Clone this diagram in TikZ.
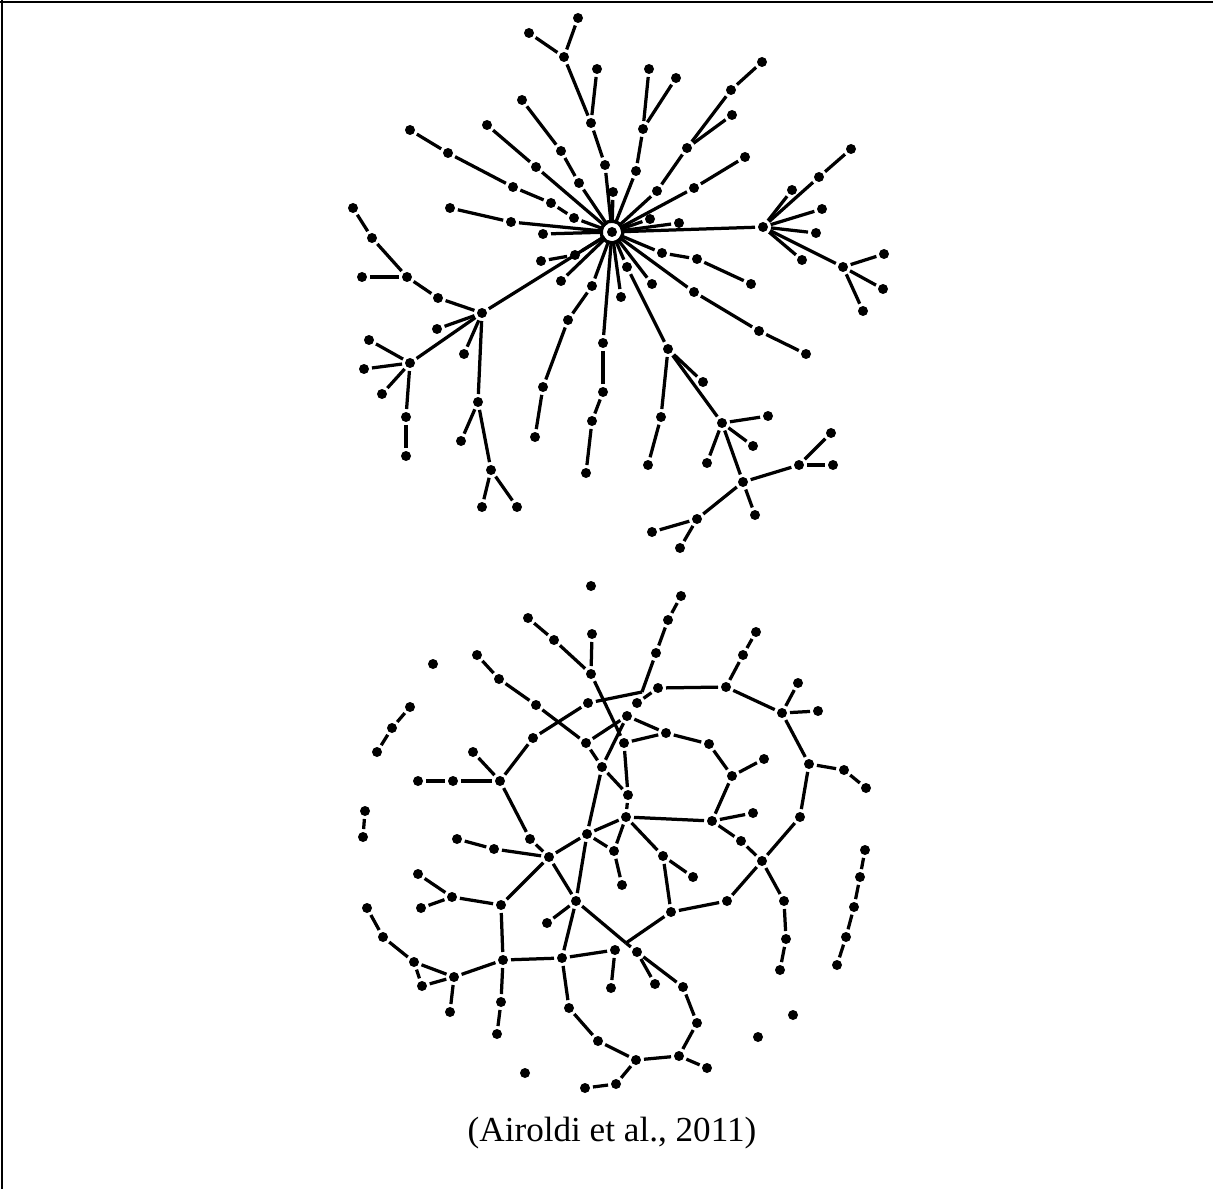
\documentclass[tikz,border=0pt]{standalone}
\usepackage{fontspec}
\setmainfont{Liberation Serif}
\usepackage{tikz}
\usetikzlibrary{positioning}

\begin{document}
\begin{tikzpicture}[
  x=0.02cm, y=-0.02cm,
  dot/.style={circle, fill=black, inner sep=0pt, minimum size=0.2cm, outer sep=0.06cm},
  hub/.style={dot, outer sep=0.08cm},
  edge/.style={draw=black, line width=0.065cm},
  frame/.style={draw=black, line width=0.04cm},
  cite/.style={font=\fontsize{20}{24}\selectfont, inner sep=0pt}]
\useasboundingbox (0,0) rectangle (1213,1189);
\draw[frame] (0,2) -- (1213,2);
\draw[frame] (2,0) -- (2,1189);

% upper network: one star around the hub
\node[hub] (th) at (612,232) {};
\foreach \x/\y in {578/18, 529/33, 564/57, 597/69, 649/69, 676/78, 762/62, 731/90,
    522/100, 591/123, 643/129, 732/115, 487/125, 410/130, 448/153, 561/151, 687/148,
    745/157, 605/165, 536/167, 636/171, 579/183, 513/187, 613/192, 657/191, 694/188,
    851/149, 819/177, 792/190, 551/203, 353/208, 450/208, 822/209, 574/218, 511/222,
    650/219, 679/223, 763/227, 816/233, 543/234, 372/238, 541/261, 575/255, 662/253,
    697/259, 802/260, 843/267, 884/254, 883/289, 863/311, 751/284, 627/267, 652/284,
    561/281, 592/286, 621/297, 694/292, 362/277, 407/277, 438/298, 482/313, 437/329,
    464/354, 369/340, 410/363, 364/369, 382/394, 406/417, 406/456, 478/402, 461/441,
    491/470, 482/507, 517/507, 568/320, 543/387, 535/437, 603/343, 603/392, 592/421,
    586/473, 759/331, 806/354, 668/349, 703/382, 661/417, 648/465, 722/423, 768/416,
    753/446, 707/463, 743/482, 799/465, 831/433, 833/465, 755/515, 697/519, 652/532,
    680/548}
  \node[dot] (t\x-\y) at (\x,\y) {};
\draw[edge] (th) circle (0.22cm);
\foreach \a/\b in {h/605-165, 605-165/591-123, 591-123/564-57, 564-57/578-18,
    564-57/529-33, 591-123/597-69, h/579-183, 579-183/561-151, 561-151/522-100,
    h/536-167, 536-167/487-125, h/574-218, 574-218/551-203, 551-203/513-187,
    513-187/448-153, 448-153/410-130, h/511-222, 511-222/450-208, h/543-234, h/613-192,
    h/636-171, 636-171/643-129, 643-129/649-69, 643-129/676-78,
    h/657-191, 657-191/687-148, 687-148/731-90, 731-90/762-62, 687-148/732-115,
    h/694-188, 694-188/745-157, h/650-219, h/679-223, h/763-227,
    763-227/792-190, 763-227/819-177, 819-177/851-149, 763-227/822-209, 763-227/816-233,
    763-227/802-260, 763-227/843-267, 843-267/884-254, 843-267/883-289, 843-267/863-311,
    h/662-253, 662-253/697-259, 697-259/751-284, h/627-267, 627-267/668-349,
    h/652-284, h/621-297, h/694-292, 694-292/759-331, 759-331/806-354,
    h/603-343, 603-343/603-392, 603-392/592-421, 592-421/586-473,
    668-349/703-382, 668-349/661-417, 661-417/648-465, 668-349/722-423,
    722-423/768-416, 722-423/753-446, 722-423/707-463, 722-423/743-482,
    743-482/799-465, 799-465/831-433, 799-465/833-465, 743-482/755-515,
    743-482/697-519, 697-519/652-532, 697-519/680-548,
    h/592-286, 592-286/568-320, 568-320/543-387, 543-387/535-437,
    h/561-281, h/575-255, 575-255/541-261,
    h/482-313, 482-313/438-298, 438-298/407-277, 407-277/372-238, 372-238/353-208,
    407-277/362-277, 482-313/437-329, 482-313/464-354, 482-313/410-363,
    410-363/369-340, 410-363/364-369, 410-363/382-394, 410-363/406-417, 406-417/406-456,
    482-313/478-402, 478-402/491-470, 491-470/482-507, 491-470/517-507, 478-402/461-441}
  \draw[edge] (t\a) -- (t\b);

% lower network: several rings and loose pieces
\foreach \x/\y in {591/586, 433/664, 525/1073, 758/1037, 793/1015,
    410/707, 392/728, 377/752, 365/811, 363/837,
    865/850, 860/877, 854/907, 846/937, 837/965,
    528/618, 554/640, 591/674, 592/634, 624/743, 681/596, 668/620, 656/653, 588/703,
    637/703, 658/688, 726/687, 743/655, 756/632, 782/713, 798/683, 818/711, 809/764,
    844/770, 866/788, 800/817, 477/655, 499/679, 536/705, 586/743, 533/738, 500/781,
    473/752, 418/781, 453/781, 530/839, 602/767, 627/716, 666/733, 628/795, 626/817,
    587/834, 709/744, 732/776, 764/759, 712/821, 741/841, 753/813, 762/861,
    784/901, 786/939, 780/970, 727/901, 671/912, 663/856, 693/877,
    637/952, 655/984, 683/987, 697/1023, 679/1056, 707/1068, 636/1060, 616/1084,
    585/1088, 598/1041, 569/1008, 562/958, 615/950, 611/988,
    503/960, 576/901, 614/851, 622/885, 549/857, 494/849, 457/839, 547/923, 501/905,
    452/897, 418/874, 421/908, 454/977, 414/962, 383/937, 367/908, 422/986, 450/1012,
    501/1002, 497/1034}
  \node[dot] (b\x-\y) at (\x,\y) {};
\coordinate (bj1) at (642,692);
\coordinate (bj2) at (626,943);
\foreach \a/\b in {410-707/392-728, 392-728/377-752, 365-811/363-837,
    865-850/860-877, 860-877/854-907, 854-907/846-937, 846-937/837-965,
    528-618/554-640, 554-640/591-674, 592-634/591-674, 591-674/624-743,
    681-596/668-620, 668-620/656-653, 656-653/j1, 588-703/j1,
    637-703/658-688, 658-688/726-687, 726-687/743-655, 743-655/756-632,
    726-687/782-713, 782-713/798-683, 782-713/818-711, 782-713/809-764,
    809-764/844-770, 844-770/866-788, 809-764/800-817,
    477-655/499-679, 499-679/536-705, 536-705/586-743,
    588-703/533-738, 533-738/500-781, 473-752/500-781, 418-781/453-781,
    453-781/500-781, 500-781/530-839,
    586-743/602-767, 627-716/602-767, 627-716/586-743, 627-716/666-733,
    624-743/666-733, 624-743/628-795, 602-767/628-795, 628-795/626-817, 602-767/587-834,
    666-733/709-744, 709-744/732-776, 732-776/764-759, 732-776/712-821,
    712-821/626-817, 712-821/741-841, 741-841/762-861, 712-821/753-813,
    762-861/800-817, 762-861/784-901, 784-901/786-939, 786-939/780-970,
    762-861/727-901, 727-901/671-912, 671-912/663-856, 663-856/693-877, 626-817/663-856,
    671-912/j2, 576-901/j2, j2/637-952,
    637-952/655-984, 637-952/683-987, 683-987/697-1023, 697-1023/679-1056,
    679-1056/707-1068, 679-1056/636-1060, 636-1060/616-1084, 616-1084/585-1088,
    636-1060/598-1041, 598-1041/569-1008, 569-1008/562-958,
    562-958/615-950, 615-950/611-988, 503-960/562-958, 576-901/562-958,
    587-834/626-817, 587-834/614-851, 614-851/622-885, 626-817/614-851,
    587-834/549-857, 587-834/576-901, 549-857/576-901, 549-857/501-905,
    549-857/494-849, 494-849/457-839, 530-839/549-857, 576-901/547-923,
    501-905/452-897, 452-897/418-874, 452-897/421-908, 501-905/503-960,
    503-960/454-977, 454-977/414-962, 414-962/383-937, 383-937/367-908,
    454-977/422-986, 414-962/422-986, 454-977/450-1012, 503-960/501-1002,
    501-1002/497-1034}
  \draw[edge] (b\a) -- (b\b);

\node[cite] (cite) at (612,1133) {(Airoldi et al., 2011)};
\end{tikzpicture}
\end{document}
